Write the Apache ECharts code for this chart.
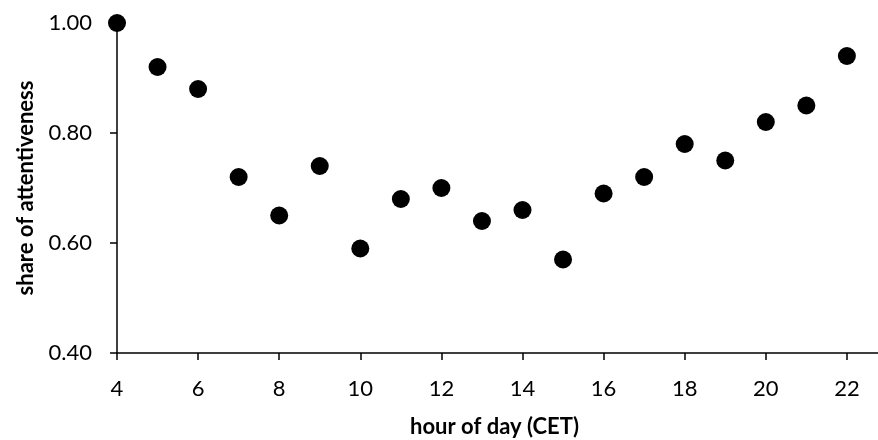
<!DOCTYPE html>
<html>
<head>
<meta charset="utf-8">
<script src="https://cdn.jsdelivr.net/npm/echarts@6/dist/echarts.min.js"></script>
<style>html,body{margin:0;padding:0;background:#fff}#c{width:878px;height:440px}</style>
</head>
<body>
<div id="c"></div>
<script>
var hours = [4,5,6,7,8,9,10,11,12,13,14,15,16,17,18,19,20,21,22];
var attentiveness = [1.00,0.92,0.88,0.72,0.65,0.74,0.59,0.68,0.70,0.64,0.66,0.57,0.69,0.72,0.78,0.75,0.82,0.85,0.94];
var xTitle = 'hour of day (CET)';
var yTitle = 'share of attentiveness';

var FONT = 'Lato';
var chart = echarts.init(document.getElementById('c'), null, {renderer:'canvas'});
var pts = hours.map(function(h,i){return [h, attentiveness[i]];});
chart.setOption({
  animation:false,
  backgroundColor:'#fff',
  grid:{left:117, right:-50, top:23, bottom:87, containLabel:false, outerBoundsMode:'none'},
  xAxis:{
    type:'value', min:4, max:24, interval:2,
    axisLine:{show:true, onZero:false, lineStyle:{color:'#000', width:1.5}},
    axisTick:{show:true, length:7, lineStyle:{color:'#000', width:1.5}},
    axisLabel:{color:'#000', fontFamily:FONT, fontSize:22, margin:25},
    splitLine:{show:false},
    name: xTitle, nameLocation:'middle', nameGap:63,
    nameTextStyle:{color:'#000', fontFamily:FONT, fontSize:22, fontWeight:'bold', padding:[0,56,0,0]}
  },
  yAxis:{
    type:'value', min:0.4, max:1.0, interval:0.2,
    axisLine:{show:true, lineStyle:{color:'#000', width:1.5}},
    axisTick:{show:true, length:7, lineStyle:{color:'#000', width:1.5}},
    axisLabel:{color:'#000', fontFamily:FONT, fontSize:22, margin:25, formatter:function(v){return v.toFixed(2);}},
    splitLine:{show:false},
    name: yTitle, nameLocation:'middle', nameGap:80,
    nameTextStyle:{color:'#000', fontFamily:FONT, fontSize:22, fontWeight:'bold'}
  },
  series:[{type:'scatter', data:pts, symbol:'circle', symbolSize:18, itemStyle:{color:'#000', opacity:1}}]
});
</script>
</body>
</html>
